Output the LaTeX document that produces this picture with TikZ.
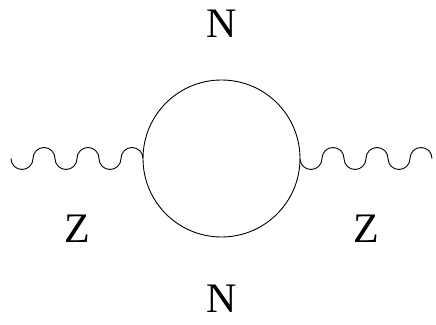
\documentclass[tikz,border=0pt]{standalone}
\usepackage{fontspec}
\setmainfont{Liberation Serif}
\usetikzlibrary{positioning}
\tikzset{
  loopline/.style={
    draw,
    circle,
    line width=0.9pt,
    minimum size=157pt,
    inner sep=0pt,
    outer sep=0pt
  },
  partlabel/.style={
    inner sep=0pt,
    outer sep=0pt,
    font=\fontsize{42}{50}\selectfont
  },
  boson/.style={
    line width=0.9pt,
    line join=round
  }
}

\begin{document}
\begin{tikzpicture}[x=1pt,y=1pt]
\useasboundingbox (0,0) rectangle (436,324);
\node[loopline] (loop) at (221.5,165.5) {};
\node[partlabel,above=42pt of loop.north] (nup) {N};
\node[partlabel,below=48pt of loop.south] (ndown) {N};
\node[partlabel] (zleft) at (77.5,95.5) {Z};
\node[partlabel] (zright) at (366,95.5) {Z};
\coordinate (zin) at (11,165.5);

\draw[boson] (zin) \foreach \k in {1,2,3} {arc (180:360:11pt) arc (180:0:11pt)};
\draw[boson] (loop.east) \foreach \k in {1,2,3} {arc (180:360:11pt) arc (180:0:11pt)};
\end{tikzpicture}
\end{document}
